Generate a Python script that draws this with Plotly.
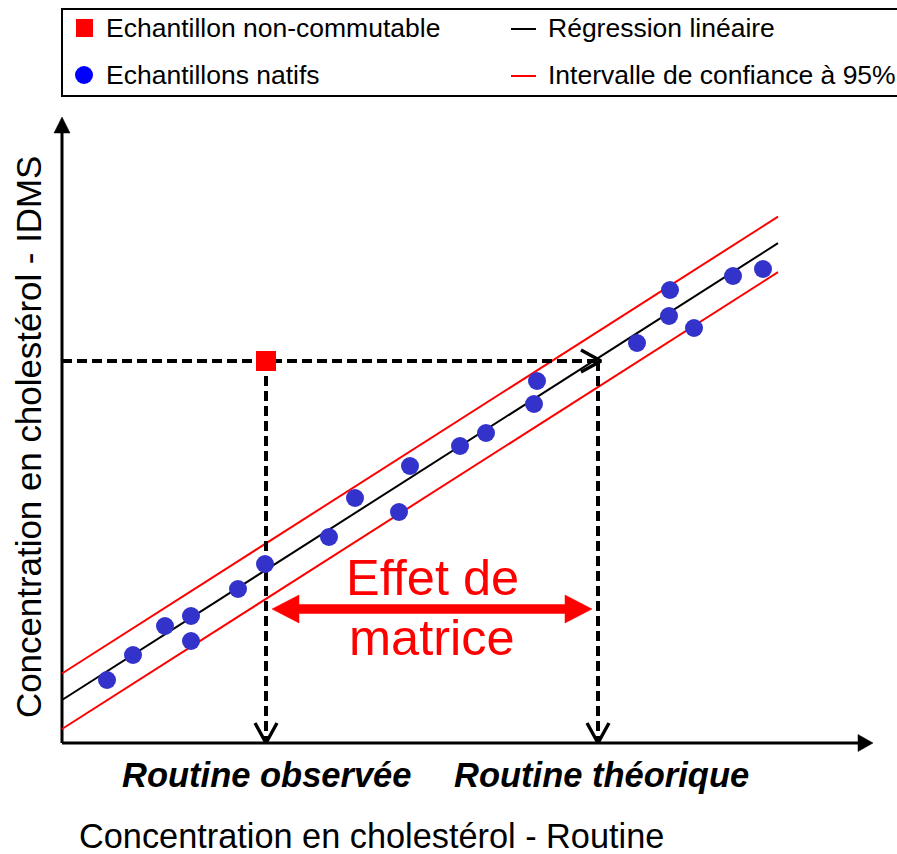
import plotly.graph_objects as go

W, H = 897, 854

# Native samples: routine method (x) vs IDMS reference (y), arbitrary units
native_routine = [4.5, 7.1, 10.3, 12.9, 12.9, 17.6, 20.3, 26.7, 29.3, 33.7, 34.8,
                  39.8, 42.4, 47.2, 47.5, 57.5, 60.7, 60.8, 63.2, 67.1, 70.1]
native_idms = [6.3, 8.8, 11.7, 12.7, 10.2, 15.4, 17.9, 20.6, 24.5, 23.1, 27.7,
               29.7, 31.0, 33.9, 36.2, 40.0, 42.7, 45.3, 41.5, 46.7, 47.4]

# Non-commutable sample
noncomm_routine = [20.4]
noncomm_idms = [38.2]

# Linear regression and 95 % confidence band
fit_x = [0.0, 71.6]
fit_intercept = 4.3
fit_slope = 0.638
ci_upper_offset = 2.65
ci_lower_offset = -2.9

# Routine value expected from the regression for the non-commutable sample
routine_theoretical = 53.6

# Axis extents (arrow tips)
x_axis_end = 81.1
y_axis_end = 62.6

# Plot scale: 10 px per unit on both axes, origin at pixel (62, 743)
X0_PX, Y0_PX, PX_PER_UNIT = 62, 743, 10.0
x_range = [-X0_PX / PX_PER_UNIT, (W - X0_PX) / PX_PER_UNIT]
y_range = [-(H - Y0_PX) / PX_PER_UNIT, Y0_PX / PX_PER_UNIT]

BLACK = "#000000"
RED = "#FF0000"
DOT_BLUE = "#3333CC"
FONT = "Liberation Sans, Arial, sans-serif"


def line(xs, ys, color, width, dash=None):
    return go.Scatter(x=xs, y=ys, mode="lines", hoverinfo="skip",
                      line=dict(color=color, width=width, dash=dash))


def polygon(xs, ys, color):
    return go.Scatter(x=xs + xs[:1], y=ys + ys[:1], mode="lines", fill="toself",
                      fillcolor=color, line=dict(color=color, width=0.5),
                      hoverinfo="skip")


def open_head(tip_x, tip_y, dx, dy, length=2.0, half=1.1):
    """Open 'V' arrow head pointing along (dx, dy)."""
    px, py = -dy, dx
    bx, by = tip_x - dx * length, tip_y - dy * length
    return line([bx + px * half, tip_x, bx - px * half],
                [by + py * half, tip_y, by - py * half], BLACK, 3.4)


def fit(x, offset=0.0):
    return fit_intercept + offset + fit_slope * x


fig = go.Figure()

# Axes drawn as arrows
fig.add_trace(line([0, 0], [0, y_axis_end - 1.4], BLACK, 3))
fig.add_trace(polygon([0, -0.8, 0.8], [y_axis_end, y_axis_end - 1.6, y_axis_end - 1.6], BLACK))
fig.add_trace(line([0, x_axis_end - 1.4], [0, 0], BLACK, 3))
fig.add_trace(polygon([x_axis_end, x_axis_end - 1.5, x_axis_end - 1.5], [0, 0.85, -0.85], BLACK))

# Regression line and confidence band
fig.add_trace(line(fit_x, [fit(v) for v in fit_x], BLACK, 2))
fig.add_trace(line(fit_x, [fit(v, ci_upper_offset) for v in fit_x], RED, 2))
fig.add_trace(line(fit_x, [fit(v, ci_lower_offset) for v in fit_x], RED, 2))

# Dashed projection lines
y_nc = noncomm_idms[0]
x_obs = noncomm_routine[0]
dash = "10px,5px"
fig.add_trace(line([0, routine_theoretical + 0.2], [y_nc, y_nc], BLACK, 4, dash))
fig.add_trace(open_head(routine_theoretical + 0.3, y_nc, 1, 0))
fig.add_trace(line([x_obs, x_obs], [y_nc, 0.3], BLACK, 4, dash))
fig.add_trace(open_head(x_obs, 0.0, 0, -1))
fig.add_trace(line([routine_theoretical, routine_theoretical], [y_nc, 0.3], BLACK, 4, dash))
fig.add_trace(open_head(routine_theoretical, 0.0, 0, -1))

# Samples
fig.add_trace(go.Scatter(x=native_routine, y=native_idms, mode="markers",
                         name="Echantillons natifs",
                         marker=dict(color=DOT_BLUE, size=18, line=dict(width=0))))
fig.add_trace(go.Scatter(x=noncomm_routine, y=noncomm_idms, mode="markers",
                         name="Echantillon non-commutable",
                         marker=dict(color=RED, symbol="square", size=20, line=dict(width=0))))

# Double-headed "matrix effect" arrow
ax0, ax1, ay = x_obs + 0.6, routine_theoretical - 0.6, 13.4
hl, hh, sh = 2.7, 1.4, 0.45
fig.add_trace(polygon(
    [ax0, ax0 + hl, ax0 + hl, ax1 - hl, ax1 - hl, ax1, ax1 - hl, ax1 - hl, ax0 + hl, ax0 + hl],
    [ay, ay + hh, ay + sh, ay + sh, ay + hh, ay, ay - hh, ay - sh, ay - sh, ay - hh],
    RED))


# Helpers for pixel placement of the decorations on paper
def px(x):
    return x / W


def py(y):
    return 1 - y / H


shapes = [
    # legend frame
    dict(type="rect", xref="paper", yref="paper", x0=px(62), x1=px(905), y0=py(96), y1=py(9),
         line=dict(color=BLACK, width=2), fillcolor="rgba(0,0,0,0)"),
    dict(type="rect", xref="paper", yref="paper", x0=px(76), x1=px(93), y0=py(37), y1=py(19),
         line=dict(width=0), fillcolor=RED),
    dict(type="circle", xref="paper", yref="paper", x0=px(75), x1=px(93), y0=py(84), y1=py(66),
         line=dict(width=0), fillcolor="#0000FF"),
    dict(type="line", xref="paper", yref="paper", x0=px(511), x1=px(536), y0=py(29), y1=py(29),
         line=dict(color=BLACK, width=2)),
    dict(type="line", xref="paper", yref="paper", x0=px(511), x1=px(536), y0=py(76), y1=py(76),
         line=dict(color=RED, width=2)),
]


def label(text, x, y, size, color=BLACK, xanchor="center", angle=0):
    return dict(text=text, xref="paper", yref="paper", x=px(x), y=py(y), showarrow=False,
                xanchor=xanchor, yanchor="middle", textangle=angle,
                font=dict(family=FONT, size=size, color=color))


annotations = [
    label("Echantillon non-commutable", 104, 28, 26.5, xanchor="left"),
    label("Echantillons natifs", 104, 75, 26.5, xanchor="left"),
    label("Régression linéaire", 546, 28, 26.5, xanchor="left"),
    label("Intervalle de confiance à 95%", 546, 75, 26.5, xanchor="left"),
    label("Effet de", 432, 577, 50.5, RED),
    label("matrice", 432, 637, 50.5, RED),
    label("<b><i>Routine observée</i></b>", 267, 775, 34.5),
    label("<b><i>Routine théorique</i></b>", 601, 775, 34.5),
    label("Concentration en cholestérol - Routine", 371, 836, 34.3),
    label("Concentration en cholestérol - IDMS", 28, 437, 34.9, angle=-90),
]

fig.update_layout(
    width=W, height=H,
    margin=dict(l=0, r=0, t=0, b=0),
    paper_bgcolor="white", plot_bgcolor="white",
    showlegend=False,
    xaxis=dict(range=x_range, visible=False, fixedrange=True),
    yaxis=dict(range=y_range, visible=False, fixedrange=True),
    shapes=shapes,
    annotations=annotations,
)

fig.write_html("out.html")
